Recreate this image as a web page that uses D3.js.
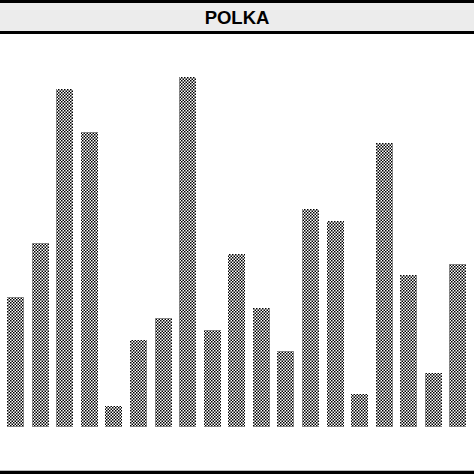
<!DOCTYPE html>
<html>
<head>
<meta charset="utf-8">
<script src="https://cdn.jsdelivr.net/npm/d3@7"></script>
<style>
  body { margin: 0; background: #fff; }
  svg { display: block; }
</style>
</head>
<body>
<script>
var svgWidth = 474;
var svgHeight = 474;

var title = "POLKA";
var categories = d3.range(1, 20).map(String);
var values = [37.1, 52.7, 96.7, 84.3, 6.1, 24.8, 31.0, 100, 27.8, 49.5,
              34.1, 21.7, 62.4, 59.0, 9.3, 81.1, 43.3, 15.4, 46.5];

var chartMargin = { top: 77, right: 7, bottom: 47, left: 7 };
var chartWidth = svgWidth - chartMargin.left - chartMargin.right;
var chartHeight = svgHeight - chartMargin.top - chartMargin.bottom;

var svg = d3.select("body")
    .append("svg")
    .attr("width", svgWidth)
    .attr("height", svgHeight);

// checkerboard fill (cells of 1.5px, like the upscaled original)
var cell = 1.5;
var pat = svg.append("defs").append("pattern")
    .attr("id", "checker")
    .attr("patternUnits", "userSpaceOnUse")
    .attr("width", cell * 2)
    .attr("height", cell * 2);
pat.append("rect").attr("width", cell * 2).attr("height", cell * 2).attr("fill", "#fff");
pat.append("rect").attr("x", 0).attr("y", 0).attr("width", cell).attr("height", cell).attr("fill", "#000");
pat.append("rect").attr("x", cell).attr("y", cell).attr("width", cell).attr("height", cell).attr("fill", "#000");

// title band
svg.append("rect").attr("x", 0).attr("y", 0).attr("width", svgWidth).attr("height", 34).attr("fill", "#000");
svg.append("rect").attr("x", 0).attr("y", 3).attr("width", svgWidth).attr("height", 28).attr("fill", "#ececec");
svg.append("text")
    .attr("x", svgWidth / 2)
    .attr("y", 23.5)
    .attr("text-anchor", "middle")
    .style("font-family", "'Liberation Sans', Arial, sans-serif")
    .style("font-weight", "bold")
    .style("font-size", "18.5px")
    .attr("fill", "#000")
    .text(title);

// bottom rule
svg.append("rect").attr("x", 0).attr("y", 470).attr("width", svgWidth).attr("height", 1).attr("fill", "#bbb");
svg.append("rect").attr("x", 0).attr("y", 471).attr("width", svgWidth).attr("height", 3).attr("fill", "#000");

var chartGroup = svg.append("g")
    .attr("transform", `translate(${chartMargin.left}, ${chartMargin.top})`);

var xBandScale = d3.scaleBand()
    .domain(categories)
    .range([0, chartWidth])
    .paddingInner(0.29)
    .paddingOuter(0.01);

var yLinearScale = d3.scaleLinear()
    .domain([0, 100])
    .range([chartHeight, 0]);

chartGroup.selectAll(".bar")
    .data(values)
    .enter()
    .append("rect")
    .attr("class", "bar")
    .attr("x", (d, i) => Math.round(xBandScale(categories[i])))
    .attr("y", d => Math.round(yLinearScale(d)))
    .attr("width", Math.round(xBandScale.bandwidth()))
    .attr("height", d => chartHeight - Math.round(yLinearScale(d)))
    .attr("fill", "url(#checker)");
</script>
</body>
</html>
